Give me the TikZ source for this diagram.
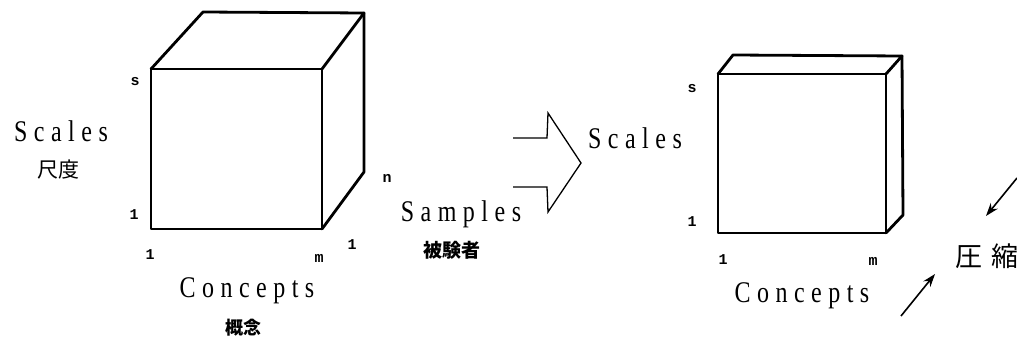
\documentclass[tikz,border=0pt]{standalone}
\usepackage{fontspec}
\setmainfont{Liberation Serif}
\newfontfamily\axfont{Liberation Serif}[LetterSpace=27]
\newfontfamily\tickfont{Liberation Mono}
\newfontfamily\jpfont{Noto Sans CJK JP}
\newfontfamily\jpwide{Noto Sans CJK JP}[LetterSpace=30]
\usetikzlibrary{arrows.meta}
% narrow, letter-spaced axis captions
\newcommand\axtext[1]{\scalebox{0.8}[1]{\axfont\fontsize{30}{30}\selectfont #1}}

\begin{document}
\begin{tikzpicture}[x=1pt,y=-1pt,
  edge/.style={line width=2.8pt,line join=round,line cap=round},
  axis/.style={inner sep=0pt},
  tick/.style={font=\tickfont\bfseries\fontsize{15}{15}\selectfont,inner sep=0pt},
  jp/.style={font=\jpfont\bfseries\fontsize{19}{19}\selectfont,inner sep=0pt},
  press/.style={line width=1.6pt,-{Stealth[length=13pt,width=9pt]}}]
\useasboundingbox (0,0) rectangle (1017,342);

% ---- full data cube: scales x concepts x samples ----
\coordinate (a1) at (151,69);  \coordinate (b1) at (322,69);
\coordinate (c1) at (322,229); \coordinate (d1) at (151,229);
\coordinate (e1) at (203,12);  \coordinate (f1) at (364,13);
\coordinate (g1) at (364,172);
\draw[edge] (a1) -- (b1) -- (c1) -- (d1) -- cycle;
\draw[edge] (a1) -- (e1) -- (f1) -- (b1);
\draw[edge] (f1) -- (g1) -- (c1);

\node[tick] (s1)  at (135,82)  {s};
\node[tick] (l1)  at (134,215) {1};
\node[tick] (lb1) at (150,255) {1};
\node[tick] (m1)  at (319,258) {m};
\node[tick] (n1)  at (387,178) {n};
\node[tick] (ln1) at (352,245) {1};

\node[axis] (scL) at (61,131) {\axtext{Scales}};
\node[inner sep=0pt,font=\jpfont\fontsize{21}{21}\selectfont] (scJ) at (58,170) {尺度};
\node[axis] (coL) at (247,291) {\axtext{Concepts}};
\node[jp,font=\jpfont\bfseries\fontsize{18}{18}\selectfont] (coJ) at (243,328) {概念};
\node[axis] (saL) at (461,214) {\axtext{Samples}};
\node[jp] (saJ) at (452,250) {被験者};

% ---- open block arrow ----
\coordinate (h1) at (513,138); \coordinate (h2) at (547,138);
\coordinate (h3) at (548,113); \coordinate (h4) at (581,163);
\coordinate (h5) at (548,212); \coordinate (h6) at (547,187);
\coordinate (h7) at (513,187);
\draw[line width=1.3pt,line join=miter] (h1) -- (h2) -- (h3) -- (h4) -- (h5) -- (h6) -- (h7);

% ---- compressed slab ----
\coordinate (a2) at (718,74);  \coordinate (b2) at (886,74);
\coordinate (c2) at (886,233); \coordinate (d2) at (718,233);
\coordinate (e2) at (733,55);  \coordinate (f2) at (902,56);
\coordinate (g2) at (903,215);
\draw[edge] (a2) -- (b2) -- (c2) -- (d2) -- cycle;
\draw[edge] (a2) -- (e2) -- (f2) -- (b2);
\draw[edge] (f2) -- (g2) -- (c2);

\node[axis] (scR) at (635,138) {\axtext{Scales}};
\node[tick] (s2)  at (692,89)  {s};
\node[tick] (l2)  at (692,222) {1};
\node[tick] (lb2) at (723,260) {1};
\node[tick] (m2)  at (873,261) {m};
\node[axis] (coR) at (802,296) {\axtext{Concepts}};

\node[inner sep=0pt,font=\jpwide\fontsize{27}{27}\selectfont] (comp) at (987,256) {圧縮};
\coordinate (pu) at (1017,178); \coordinate (pd) at (901,316);
\draw[press] (pu) -- (986,216);
\draw[press] (pd) -- (935,274);
\end{tikzpicture}
\end{document}
